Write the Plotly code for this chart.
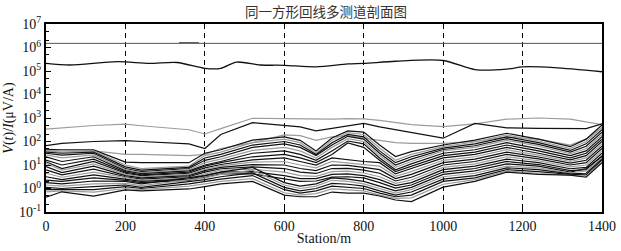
import plotly.graph_objects as go

# ---------------- data ----------------
stations = [0, 40, 120, 200, 240, 360, 400, 440, 520, 600, 640, 680, 720,
            760, 800, 840, 880, 920, 1000, 1080, 1160, 1240, 1320, 1360, 1400]

top_x = [0, 1400]
top_v = [1.5e6, 1.5e6]
bump_x = [335, 385]
bump_v = [1.62e6, 1.62e6]

ch2_x = [0, 60, 180, 260, 330, 400, 440, 480, 540, 600, 680, 760, 800,
         880, 1000, 1080, 1160, 1200, 1280, 1400]
ch2_v = [2.1e5, 1.8e5, 2.5e5, 2.1e5, 2.3e5, 1.3e5, 1.3e5, 2.4e5, 1.8e5,
         1.75e5, 1.5e5, 2.0e5, 2.1e5, 2.6e5, 2.8e5, 1.15e5, 1.2e5, 1.5e5,
         1.4e5, 0.93e5]

# later channels: log10 of V(t)/I read at each station
g1_log = [2.53, 2.58, 2.68, 2.74, 2.67, 2.50, 2.32, 2.55, 2.99, 2.97, 2.96, 2.93, 2.95,
          2.97, 2.96, 2.90, 2.80, 2.72, 2.63, 2.75, 2.95, 3.00, 2.95, 2.85, 2.72]
g2_log = [1.82, 1.92, 2.00, 2.04, 2.00, 1.90, 1.70, 2.30, 2.80, 2.70, 2.62, 2.45, 2.55,
          2.65, 2.77, 2.62, 2.50, 2.40, 2.14, 2.77, 2.58, 2.56, 2.56, 2.55, 2.75]
g3_log = [1.60, 1.55, 1.60, 1.45, 1.45, 1.40, 1.45, 1.70, 1.95, 2.28, 2.25, 2.05, 2.20,
          2.25, 2.14, 2.05, 1.95, 1.92, 1.92, 2.00, 2.20, 2.10, 1.85, 2.10, 2.60]

u1_log = [1.67, 1.64, 1.64, 1.12, 1.10, 1.10, 1.50, 1.65, 2.06, 2.20, 2.05, 1.60, 2.15,
          2.45, 2.40, 1.85, 1.36, 1.57, 1.85, 2.06, 2.35, 2.10, 1.78, 2.10, 2.70]
u2_log = [1.61, 1.60, 1.60, 1.00, 0.85, 0.95, 1.40, 1.55, 1.95, 2.10, 1.95, 1.50, 2.05,
          2.38, 2.30, 1.72, 1.20, 1.45, 1.78, 1.98, 2.28, 2.02, 1.70, 2.00, 2.60]
u3_log = [1.55, 1.50, 1.55, 0.92, 0.78, 0.90, 1.30, 1.45, 1.85, 2.00, 1.85, 1.45, 1.95,
          2.30, 2.20, 1.60, 1.10, 1.35, 1.72, 1.90, 2.20, 1.95, 1.62, 1.90, 2.50]
u4_log = [1.50, 1.42, 1.50, 0.85, 0.72, 0.85, 1.20, 1.35, 1.75, 1.90, 1.75, 1.40, 1.85,
          2.22, 2.10, 1.50, 1.00, 1.25, 1.66, 1.82, 2.12, 1.88, 1.55, 1.80, 2.40]
u5_log = [1.43, 1.30, 1.43, 0.80, 0.68, 0.80, 1.10, 1.25, 1.62, 1.75, 1.60, 1.30, 1.75,
          2.12, 2.00, 1.40, 0.90, 1.15, 1.60, 1.75, 2.05, 1.80, 1.48, 1.70, 2.30]
u6_log = [1.35, 1.15, 1.35, 0.75, 0.63, 0.75, 1.00, 1.15, 1.50, 1.60, 1.45, 1.20, 1.60,
          2.02, 1.90, 1.30, 0.80, 1.05, 1.50, 1.65, 1.95, 1.70, 1.40, 1.60, 2.20]
u7_log = [1.21, 1.00, 1.25, 0.70, 0.58, 0.70, 0.95, 1.10, 1.35, 1.45, 1.30, 1.10, 1.45,
          1.94, 1.75, 1.20, 0.72, 0.95, 1.40, 1.55, 1.85, 1.60, 1.30, 1.50, 2.10]

m1_log = [1.14, 0.85, 1.15, 0.65, 0.55, 0.65, 0.88, 1.02, 1.22, 1.30, 1.15, 1.00, 1.30,
          1.22, 1.15, 1.10, 0.62, 0.85, 1.30, 1.45, 1.75, 1.50, 1.22, 1.40, 2.00]
m2_log = [1.07, 0.78, 1.05, 0.60, 0.50, 0.60, 0.82, 0.96, 1.12, 1.15, 1.00, 0.88, 1.15,
          1.10, 1.02, 0.95, 0.52, 0.72, 1.20, 1.35, 1.65, 1.42, 1.15, 1.30, 1.90]
m3_log = [0.93, 0.68, 0.95, 0.55, 0.45, 0.55, 0.76, 0.90, 1.02, 1.00, 0.85, 0.76, 1.00,
          0.98, 0.90, 0.80, 0.42, 0.60, 1.10, 1.25, 1.55, 1.34, 1.08, 1.20, 1.80]
m4_log = [0.79, 0.58, 0.82, 0.50, 0.40, 0.50, 0.70, 0.84, 0.92, 0.85, 0.70, 0.64, 0.85,
          0.86, 0.78, 0.65, 0.32, 0.48, 1.00, 1.15, 1.45, 1.26, 1.00, 1.10, 1.70]
m5_log = [0.65, 0.48, 0.70, 0.45, 0.35, 0.45, 0.62, 0.78, 0.82, 0.70, 0.55, 0.52, 0.72,
          0.74, 0.66, 0.50, 0.22, 0.36, 0.90, 1.05, 1.35, 1.18, 0.92, 1.00, 1.60]
m6_log = [0.50, 0.38, 0.58, 0.40, 0.30, 0.40, 0.55, 0.70, 0.72, 0.55, 0.42, 0.42, 0.60,
          0.62, 0.55, 0.38, 0.12, 0.25, 0.80, 0.95, 1.25, 1.10, 0.84, 0.90, 1.50]
m7_log = [0.36, 0.30, 0.45, 0.35, 0.25, 0.35, 0.48, 0.62, 0.62, 0.40, 0.30, 0.32, 0.48,
          0.50, 0.45, 0.25, 0.02, 0.15, 0.70, 0.85, 1.15, 1.02, 0.76, 0.80, 1.40]

l1_log = [0.25, 0.20, 0.32, 0.30, 0.20, 0.45, 0.55, 0.70, 0.90, 0.25, 0.10, 0.20, 0.45,
          0.40, 0.30, 0.10, -0.10, 0.05, 0.60, 0.75, 1.05, 0.95, 0.70, 0.85, 1.35]
l2_log = [0.15, 0.10, 0.20, 0.22, 0.12, 0.38, 0.45, 0.60, 0.78, 0.15, 0.00, 0.10, 0.35,
          0.30, 0.20, 0.00, -0.20, -0.05, 0.50, 0.65, 0.95, 0.88, 0.66, 0.75, 1.30]
l3_log = [0.05, 0.00, 0.08, 0.15, 0.05, 0.30, 0.38, 0.50, 0.66, 0.05, -0.10, 0.00, 0.22,
          0.18, 0.10, -0.10, -0.28, -0.15, 0.40, 0.55, 0.88, 0.80, 0.62, 0.65, 1.25]
l4_log = [-0.05, -0.06, -0.05, 0.08, 0.00, 0.20, 0.30, 0.40, 0.55, -0.05, -0.20, -0.10, 0.10,
          0.06, 0.00, -0.20, -0.35, -0.28, 0.30, 0.45, 0.80, 0.72, 0.60, 0.58, 1.20]
l5_log = [-0.14, -0.10, -0.15, 0.00, -0.05, 0.10, 0.20, 0.30, 0.42, -0.18, -0.28, -0.22, -0.02,
          -0.06, -0.10, -0.28, -0.42, -0.40, 0.18, 0.38, 0.75, 0.65, 0.58, 0.52, 1.15]
l6_log = [-0.37, -0.14, -0.32, -0.06, -0.10, -0.02, 0.08, 0.20, 0.30, -0.28, -0.35, -0.35, -0.15,
          -0.20, -0.20, -0.32, -0.49, -0.56, 0.06, 0.30, 0.70, 0.60, 0.57, 0.48, 1.10]

x_ticks = [0, 200, 400, 600, 800, 1000, 1200, 1400]
y_tick_exp = [-1, 0, 1, 2, 3, 4, 5, 6, 7]
title_text = "同一方形回线多测道剖面图"
x_title = "Station/m"
y_title = "<i>V</i>(<i>t</i>)/<i>I</i>(μV/A)"

# ---------------- styling ----------------
BLACK = "#111111"
GRAY = "#9c9c9c"
SERIF = "Liberation Serif"

channels = [
    (g1_log, GRAY), (g2_log, BLACK), (g3_log, GRAY),
    (u1_log, BLACK), (u2_log, GRAY), (u3_log, BLACK), (u4_log, BLACK),
    (u5_log, GRAY), (u6_log, BLACK), (u7_log, BLACK),
    (m1_log, BLACK), (m2_log, GRAY), (m3_log, BLACK), (m4_log, BLACK),
    (m5_log, GRAY), (m6_log, BLACK), (m7_log, BLACK),
    (l1_log, BLACK), (l2_log, GRAY), (l3_log, BLACK), (l4_log, BLACK),
    (l5_log, GRAY), (l6_log, BLACK),
]

fig = go.Figure()
fig.add_trace(go.Scatter(x=top_x, y=top_v, mode="lines",
                         line=dict(color="#555555", width=1), showlegend=False))
fig.add_trace(go.Scatter(x=bump_x, y=bump_v, mode="lines",
                         line=dict(color="#555555", width=1), showlegend=False))
fig.add_trace(go.Scatter(x=ch2_x, y=ch2_v, mode="lines",
                         line=dict(color=BLACK, width=1.3, shape="spline", smoothing=0.8),
                         showlegend=False))
for logs, col in channels:
    fig.add_trace(go.Scatter(x=stations, y=[10 ** v for v in logs], mode="lines",
                             line=dict(color=col, width=1.2), showlegend=False))

fig.update_layout(
    width=621, height=251,
    margin=dict(l=46, r=19, t=24, b=39, autoexpand=False),
    paper_bgcolor="white", plot_bgcolor="white",
    font=dict(family=SERIF, size=14, color="#111111"),
    title=dict(text=title_text, x=0.525, xanchor="center", y=0.952, yanchor="middle",
               font=dict(family="Noto Sans CJK SC", size=13.5, color="#333333")),
    showlegend=False,
    hovermode=False,
)
fig.update_xaxes(
    range=[0, 1400], tickvals=x_ticks, ticks="inside", ticklen=4, tickcolor="black",
    showline=True, linecolor="black", linewidth=2, mirror=True,
    showgrid=True, gridcolor="black", griddash="5px,4px", gridwidth=1,
    zeroline=False, automargin=False, tickfont=dict(family=SERIF, size=14),
    title=dict(text=x_title, standoff=0, font=dict(family=SERIF, size=14)),
)
fig.update_yaxes(
    type="log", range=[-1, 7],
    tickvals=[10 ** e for e in y_tick_exp],
    ticktext=["10<sup>%d</sup>" % e for e in y_tick_exp],
    ticks="inside", ticklen=5, tickcolor="black",
    minor=dict(ticks="inside", ticklen=3, tickcolor="black", showgrid=False),
    showline=True, linecolor="black", linewidth=2, mirror=True,
    showgrid=False, zeroline=False, automargin=False, tickfont=dict(family=SERIF, size=14),
    title=dict(text=y_title, standoff=2, font=dict(family=SERIF, size=14)),
)

fig.write_html("out.html", config={"displayModeBar": False, "staticPlot": True},
               post_script="document.body.style.margin='0px';")
